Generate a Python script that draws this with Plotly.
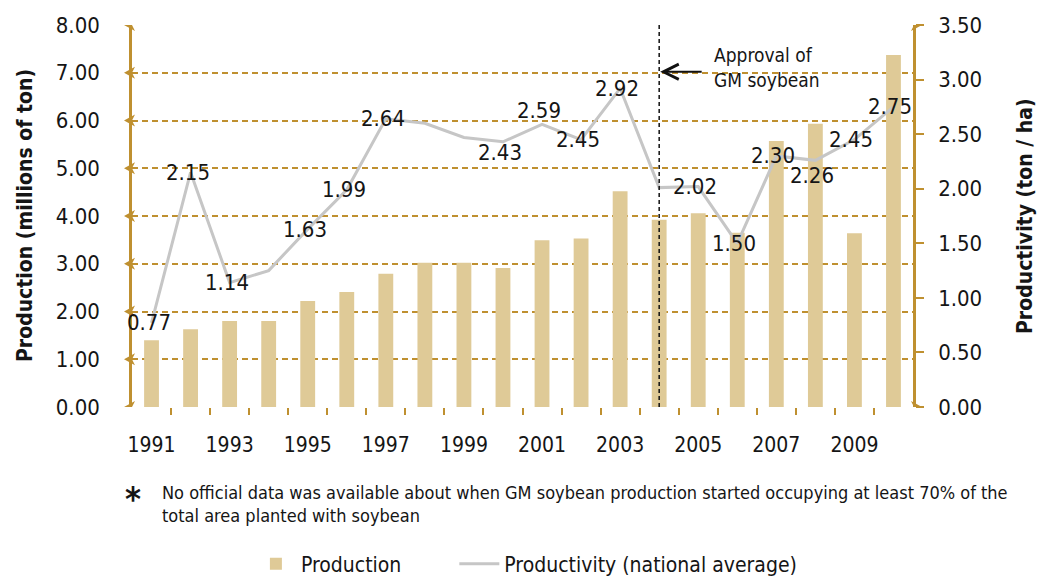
import plotly.graph_objects as go

years = list(range(1991, 2011))
production = [1.40, 1.63, 1.80, 1.80, 2.22, 2.41, 2.79, 3.02, 3.02, 2.91,
              3.49, 3.53, 4.52, 3.92, 4.06, 3.65, 5.57, 5.93, 3.64, 7.37]
productivity = [0.77, 2.15, 1.14, 1.25, 1.63, 1.99, 2.64, 2.60, 2.47, 2.43,
                2.59, 2.45, 2.92, 2.01, 2.02, 1.50, 2.30, 2.26, 2.45, 2.75]
labels = ["0.77", "2.15", "1.14", "", "1.63", "1.99", "2.64", "", "", "2.43",
          "2.59", "2.45", "2.92", "", "2.02", "1.50", "2.30", "2.26", "2.45", "2.75"]
xtick_years = [1991, 1993, 1995, 1997, 1999, 2001, 2003, 2005, 2007, 2009]
left_ticks = [0, 1, 2, 3, 4, 5, 6, 7, 8]
right_ticks = [0, 0.5, 1.0, 1.5, 2.0, 2.5, 3.0, 3.5]
approval_year = 2004

FONT = "DejaVu Sans Condensed, Liberation Sans Narrow, sans-serif"
GOLD = "#BF9030"
BAR = "#DFCA97"
LINE = "#C6C6C6"
TXT = "#151515"
PAD = "\u00a0" * 8  # spacing between legend entries

fig = go.Figure()
fig.add_trace(go.Bar(x=years, y=production, name="Production" + PAD,
                     marker=dict(color=BAR, line=dict(width=0)), width=0.38,
                     yaxis="y"))
fig.add_trace(go.Scatter(x=years, y=productivity, name="Productivity (national average)",
                         mode="lines", line=dict(color=LINE, width=3), yaxis="y2"))

shifts = {2000: -11, 2001: 14, 2008: -15}
annotations = []
for yr, v, lab in zip(years, productivity, labels):
    if lab:
        annotations.append(dict(x=yr, y=v, xref="x", yref="y2", text=lab, showarrow=False,
                                xshift=-3, yshift=shifts.get(yr, 0),
                                font=dict(family=FONT, size=22, color=TXT)))

# axis titles
annotations.append(dict(x=-0.137, y=0.5, xref="paper", yref="paper", textangle=-90,
                        xanchor="center", yanchor="middle",
                        text="<b>Production (millions of ton)</b>", showarrow=False,
                        font=dict(family=FONT, size=21, color=TXT)))
annotations.append(dict(x=1.1434, y=0.5, xref="paper", yref="paper", textangle=-90,
                        xanchor="center", yanchor="middle",
                        text="<b>Productivity (ton / ha)</b>", showarrow=False,
                        font=dict(family=FONT, size=21, color=TXT)))
# approval arrow + text
annotations.append(dict(x=approval_year, y=7.02, xref="x", yref="y", text="",
                        showarrow=True, ax=44, ay=0, arrowhead=5, arrowsize=1.5,
                        arrowwidth=2, arrowcolor="#111111", standoff=1))
annotations.append(dict(x=2005.35, y=7.1, xref="x", yref="y", xanchor="left",
                        yanchor="middle", align="left",
                        text="Approval of<br>GM soybean", showarrow=False,
                        font=dict(family=FONT, size=19, color=TXT)))
# footnote
annotations.append(dict(x=0.001, y=-0.24, xref="paper", yref="paper", xanchor="center",
                        yanchor="middle", text="<b>*</b>", showarrow=False,
                        font=dict(family=FONT, size=34, color=TXT)))
annotations.append(dict(x=0.0359, y=-0.19, xref="paper", yref="paper", xanchor="left",
                        yanchor="top", align="left",
                        text="No official data was available about when GM soybean production started occupying at least 70% of the<br>total area planted with soybean",
                        showarrow=False, font=dict(family=FONT, size=18, color=TXT)))

shapes = [dict(type="line", xref="x", yref="y", x0=approval_year, x1=approval_year,
               y0=0, y1=8, line=dict(color="#111111", width=1.5, dash="4px,3px"))]
for t in left_ticks:
    shapes.append(dict(type="path", xref="paper", yref="y", xsizemode="pixel",
                       ysizemode="pixel", xanchor=0, yanchor=t,
                       path="M-8,0 L3,6 L0,0 L3,-6 Z", fillcolor=GOLD,
                       line=dict(width=0)))
for t in [0, 8]:
    shapes.append(dict(type="path", xref="paper", yref="y", xsizemode="pixel",
                       ysizemode="pixel", xanchor=1, yanchor=t,
                       path="M9,0 L-2,6 L1,0 L-2,-6 Z", fillcolor=GOLD,
                       line=dict(width=0)))

fig.update_layout(
    width=1039, height=578,
    margin=dict(l=132, r=126, t=25, b=171),
    paper_bgcolor="white", plot_bgcolor="white",
    font=dict(family=FONT, size=21, color=TXT),
    showlegend=True,
    legend=dict(orientation="h", x=0.505, xanchor="center", xref="paper",
                y=0.024, yanchor="middle", yref="container",
                font=dict(family=FONT, size=21, color=TXT), itemwidth=40,
                traceorder="normal"),
    xaxis=dict(range=[1990.5, 2010.5], tickvals=xtick_years,
               ticktext=[str(y) for y in xtick_years], ticks="", showgrid=False,
               zeroline=False, showline=False, ticklabelstandoff=23,
               tickfont=dict(family=FONT, size=21, color=TXT),
               minor=dict(tickvals=[y + 0.5 for y in years[:-1]], ticks="outside",
                          ticklen=7, tickcolor=GOLD, tickwidth=1.5, showgrid=False)),
    yaxis=dict(range=[0, 8], tickvals=left_ticks,
               ticktext=[f"{v:.2f}" for v in left_ticks], showgrid=True,
               gridcolor=GOLD, griddash="6px,4px", gridwidth=1.5, zeroline=False,
               showline=True, linecolor=GOLD, linewidth=2.5, ticks="",
               ticklabelstandoff=25, tickfont=dict(family=FONT, size=22, color=TXT)),
    yaxis2=dict(range=[0, 3.5], tickvals=right_ticks,
                ticktext=[f"{v:.2f}" for v in right_ticks], overlaying="y", side="right",
                showgrid=False, zeroline=False, showline=True, linecolor=GOLD,
                linewidth=2.5, ticks="outside", ticklen=8, tickcolor=GOLD, tickwidth=1.5,
                ticklabelstandoff=10, tickfont=dict(family=FONT, size=22, color=TXT)),
    annotations=annotations,
    shapes=shapes,
)

fig.write_html("out.html", config={"displayModeBar": False},
               post_script="document.body.style.margin='0';")
